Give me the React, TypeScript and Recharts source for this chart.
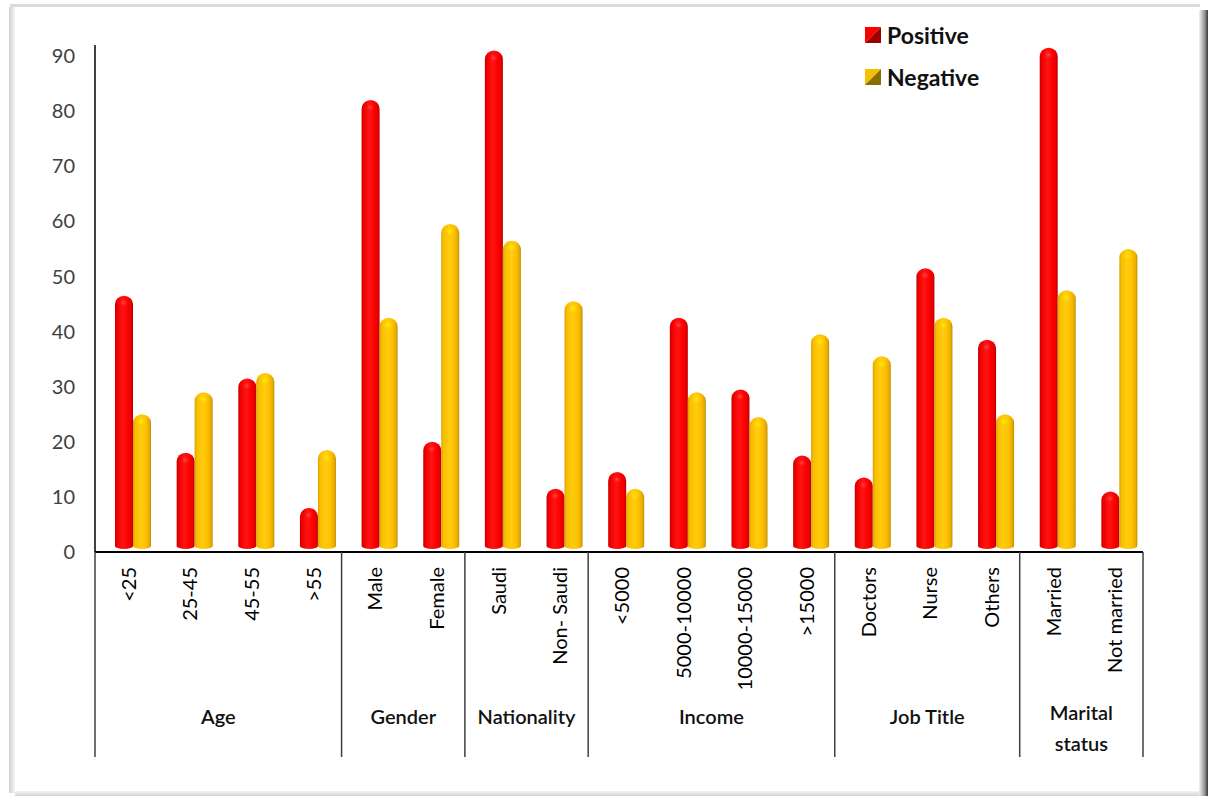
import React from 'react';
import { BarChart, Bar, XAxis, YAxis } from 'recharts';

const categories = ['<25', '25-45', '45-55', '>55', 'Male', 'Female', 'Saudi', 'Non- Saudi', '<5000', '5000-10000', '10000-15000', '>15000', 'Doctors', 'Nurse', 'Others', 'Married', 'Not married'];
const positive = [46.5, 18, 31.5, 8, 82, 20, 91, 11.5, 14.5, 42.5, 29.5, 17.5, 13.5, 51.5, 38.5, 91.5, 11];
const negative = [25, 29, 32.5, 18.5, 42.5, 59.5, 56.5, 45.5, 11.5, 29, 24.5, 39.5, 35.5, 42.5, 25, 47.5, 55];
const groupNames = ['Age', 'Gender', 'Nationality', 'Income', 'Job Title', 'Marital\nstatus'];
const groupSizes = [4, 2, 2, 4, 3, 2];
const yTicks = [0, 10, 20, 30, 40, 50, 60, 70, 80, 90];
const seriesNames = ['Positive', 'Negative'];

const data = categories.map((c, i) => ({ name: c, Positive: positive[i], Negative: negative[i] }));

const groupStarts: number[] = [];
groupSizes.reduce((acc, s) => { groupStarts.push(acc); return acc + s; }, 0);

const FONT = 'Lato, "Open Sans", sans-serif';
const SHIFT = 7;

const makeCylinder = (id: string) => (props: any) => {
  const { x, y, width, height } = props;
  if (!height || height <= 0) return null;
  const X = x + SHIFT;
  const r = width / 2;
  const ry = Math.min(r * 0.95, height / 2);
  const bottom = y + height - 3;
  const by = 3;
  const d = `M ${X} ${y + ry} A ${r} ${ry} 0 0 1 ${X + width} ${y + ry} L ${X + width} ${bottom - by} A ${r} ${by} 0 0 1 ${X} ${bottom - by} Z`;
  return (
    <g>
      <path d={d} fill={`url(#body-${id})`} />
      <ellipse cx={X + r * 0.95} cy={y + ry * 0.85} rx={r * 0.6} ry={ry * 0.6} fill={`url(#hl-${id})`} />
    </g>
  );
};

const PosShape = makeCylinder('pos');
const NegShape = makeCylinder('neg');

const XTick = (props: any) => {
  const { x, y, payload } = props;
  const i: number = payload.index;
  const half: number = payload.offset || 1048 / 17 / 2;
  const gi = groupStarts.indexOf(i);
  const els: any[] = [];
  els.push(
    <text key="t" transform={`translate(${x + 2},${y + 15}) rotate(-90)`} textAnchor="end" dominantBaseline="central"
      fontFamily={FONT} fontSize={20} fill="#000">{payload.value}</text>
  );
  if (gi >= 0) {
    const left = x - half;
    const size = groupSizes[gi];
    const cx = left + size * half;
    els.push(<line key="l" x1={left} x2={left} y1={y} y2={y + 205} stroke="#404040" strokeWidth={1.5} />);
    const lines = groupNames[gi].split('\n');
    if (lines.length === 1) {
      els.push(<text key="g" x={cx} y={y + 164} textAnchor="middle" dominantBaseline="central" fontFamily={FONT} fontSize={20} fontWeight={600} fill="#111">{lines[0]}</text>);
    } else {
      lines.forEach((ln, k) => {
        els.push(<text key={'g' + k} x={cx} y={y + 160 + k * 31} textAnchor="middle" dominantBaseline="central" fontFamily={FONT} fontSize={20} fontWeight={600} fill="#111">{ln}</text>);
      });
    }
  }
  if (i === categories.length - 1) {
    els.push(<line key="r" x1={x + half} x2={x + half} y1={y} y2={y + 205} stroke="#404040" strokeWidth={1.5} />);
  }
  return <g>{els}</g>;
};

const legendColors: Record<string, [string, string]> = {
  Positive: ['#FF0000', '#9E0000'],
  Negative: ['#F5C000', '#8A6E00'],
};

export default function App() {
  return (
    <div style={{ position: 'absolute', left: 0, top: 0, width: 1208, height: 796, background: '#fff', overflow: 'hidden' }}>
      <svg width={0} height={0} style={{ position: 'absolute' }}>
        <defs>
          <linearGradient id="body-pos" x1="0" y1="0" x2="1" y2="0">
            <stop offset="0%" stopColor="#C40000" />
            <stop offset="12%" stopColor="#F00000" />
            <stop offset="45%" stopColor="#FF1414" />
            <stop offset="70%" stopColor="#FF0000" />
            <stop offset="90%" stopColor="#E80000" />
            <stop offset="100%" stopColor="#B00000" />
          </linearGradient>
          <linearGradient id="body-neg" x1="0" y1="0" x2="1" y2="0">
            <stop offset="0%" stopColor="#D8A000" />
            <stop offset="12%" stopColor="#F8BE00" />
            <stop offset="45%" stopColor="#FFCC10" />
            <stop offset="70%" stopColor="#FFC000" />
            <stop offset="90%" stopColor="#E8AE00" />
            <stop offset="100%" stopColor="#B88C00" />
          </linearGradient>
          <radialGradient id="hl-pos">
            <stop offset="0%" stopColor="#FF5050" stopOpacity={0.9} />
            <stop offset="100%" stopColor="#FF0000" stopOpacity={0} />
          </radialGradient>
          <radialGradient id="hl-neg">
            <stop offset="0%" stopColor="#FFF000" stopOpacity={0.95} />
            <stop offset="100%" stopColor="#FFD000" stopOpacity={0} />
          </radialGradient>
        </defs>
      </svg>
      <div style={{ position: 'absolute', left: 10, top: 4, width: 1190, height: 3, background: '#dcdcdc' }} />
      <div style={{ position: 'absolute', left: 9, top: 7, width: 6, height: 786, background: 'linear-gradient(to right, #cfcfcf, #f6f6f6)' }} />
      <div style={{ position: 'absolute', left: 1199, top: 10, width: 9, height: 786, background: 'linear-gradient(to right, #f2f2f2, #9a9a9a 60%, #3a3a3a)' }} />
      <div style={{ position: 'absolute', left: 15, top: 791, width: 1184, height: 5, background: 'linear-gradient(to bottom, #f4f4f4, #d4d4d4)' }} />
      <div style={{ position: 'absolute', left: 0, top: 0 }}>
        <BarChart width={1208} height={796} data={data} margin={{ top: 45, right: 65, bottom: 0, left: 0 }} barSize={18} barGap={0}>
          <YAxis width={95} domain={[0, 92]} ticks={yTicks} interval={0} allowDataOverflow
            axisLine={{ stroke: '#000', strokeWidth: 1.5 }} tickLine={false} tickSize={0} tickMargin={20}
            tick={{ fontFamily: FONT, fontSize: 20, fill: '#404040' }} />
          <XAxis dataKey="name" height={244} interval={0} axisLine={{ stroke: '#000', strokeWidth: 2 }}
            tickLine={false} tickSize={0} tickMargin={0} tick={<XTick />} />
          <Bar dataKey="Positive" fill="#FF0000" shape={PosShape} isAnimationActive={false} />
          <Bar dataKey="Negative" fill="#FFC000" shape={NegShape} isAnimationActive={false} />
        </BarChart>
      </div>
      <div style={{ position: 'absolute', left: 865, top: 14, fontFamily: FONT }}>
        {seriesNames.map((s) => {
          const [c1, c2] = legendColors[s];
          return (
            <div key={s} style={{ display: 'flex', alignItems: 'center', height: 42 }}>
              <svg width={16} height={16} style={{ marginRight: 6 }}>
                <polygon points="0,0 16,0 0,16" fill={c1} />
                <polygon points="16,0 16,16 0,16" fill={c2} />
              </svg>
              <span style={{ fontSize: 23, fontWeight: 700, color: '#111' }}>{s}</span>
            </div>
          );
        })}
      </div>
    </div>
  );
}
